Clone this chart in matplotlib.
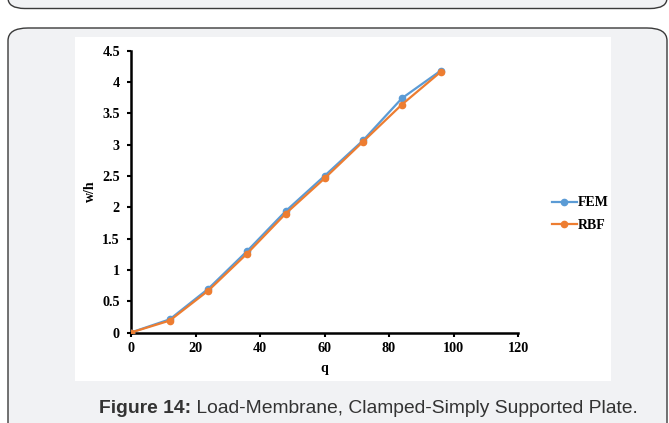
import matplotlib
matplotlib.use("Agg")
import matplotlib.pyplot as plt
from matplotlib.patches import FancyBboxPatch, Rectangle

q = [0, 12, 24, 36, 48, 60, 72, 84, 96]
fem = [0, 0.21, 0.70, 1.30, 1.94, 2.50, 3.07, 3.74, 4.18]
rbf = [0, 0.19, 0.67, 1.26, 1.90, 2.46, 3.05, 3.64, 4.16]
xticks = [0, 20, 40, 60, 80, 100, 120]
yticks = [0, 0.5, 1, 1.5, 2, 2.5, 3, 3.5, 4, 4.5]
ytick_labels = ["0", "0.5", "1", "1.5", "2", "2.5", "3", "3.5", "4", "4.5"]
caption_bold = "Figure 14:"
caption_rest = " Load-Membrane, Clamped-Simply Supported Plate."

W, H = 669, 423
fig = plt.figure(figsize=(W / 100, H / 100), dpi=100)
fig.patch.set_facecolor("white")

def fx(x):
    return x / W

def fy(y):
    return 1 - y / H

bg = "#f1f2f4"
edge = "#3a3a3a"
# top box (partially visible)
fig.patches.append(FancyBboxPatch((fx(8), fy(8.5)), fx(659), fy(-40) - fy(8.5),
                                  boxstyle="round,pad=0,rounding_size=0.025",
                                  transform=fig.transFigure, facecolor=bg,
                                  edgecolor=edge, linewidth=1.0, zorder=0))
# main box
fig.patches.append(FancyBboxPatch((fx(8), fy(460)), fx(659), fy(28) - fy(460),
                                  boxstyle="round,pad=0,rounding_size=0.03",
                                  transform=fig.transFigure, facecolor=bg,
                                  edgecolor=edge, linewidth=1.0, zorder=0))
# white chart area
fig.patches.append(Rectangle((fx(75), fy(381)), fx(611 - 75), fy(37) - fy(381),
                             transform=fig.transFigure, facecolor="white",
                             edgecolor="none", zorder=0.5))

ax = fig.add_axes([fx(131), fy(332.5), fx(518 - 131), fy(50.7) - fy(332.5)])
ax.set_zorder(2)
ax.set_facecolor("none")
ax.plot(q, fem, color="#5B9BD5", marker="o", markersize=4.5, linewidth=1.6, label="FEM", zorder=3)
ax.plot(q, rbf, color="#ED7D31", marker="o", markersize=4.5, linewidth=1.6, label="RBF", zorder=4)

ax.set_xlim(0, 120)
ax.set_ylim(0, 4.5)
ax.set_xticks(xticks)
ax.set_yticks(yticks)
ax.set_yticklabels(ytick_labels)
for s in ["top", "right"]:
    ax.spines[s].set_visible(False)
for s in ["left", "bottom"]:
    ax.spines[s].set_linewidth(1.8)
    ax.spines[s].set_color("black")
ax.tick_params(axis="both", direction="out", length=3, width=1.5, colors="black")
ax.tick_params(axis="x", pad=4)
ax.tick_params(axis="y", pad=5)
for lab in ax.get_xticklabels() + ax.get_yticklabels():
    lab.set_fontfamily("Liberation Serif")
    lab.set_fontweight("bold")
    lab.set_fontsize(10.2)
ax.set_xlabel("q", fontfamily="Liberation Serif", fontweight="bold", fontsize=10, labelpad=5)
ax.set_ylabel("w/h", fontfamily="Liberation Serif", fontweight="bold", fontsize=10, labelpad=4)

leg = ax.legend(loc="center left", bbox_to_anchor=(fx(539), fy(214)), bbox_transform=fig.transFigure,
                frameon=False, handlelength=1.8, handletextpad=0.1, labelspacing=0.65,
                prop={"family": "Liberation Serif", "weight": "bold", "size": 10})

t1 = fig.text(fx(99), fy(408), caption_bold, fontfamily="Liberation Sans", fontweight="bold",
              fontsize=13.9, color="#333333", va="center", ha="left")
fig.canvas.draw()
bb = t1.get_window_extent()
fig.text(bb.x1 / W, fy(408), caption_rest, fontfamily="Liberation Sans",
         fontsize=13.9, color="#333333", va="center", ha="left")

fig.savefig("out.png", dpi=100, facecolor=fig.get_facecolor())
